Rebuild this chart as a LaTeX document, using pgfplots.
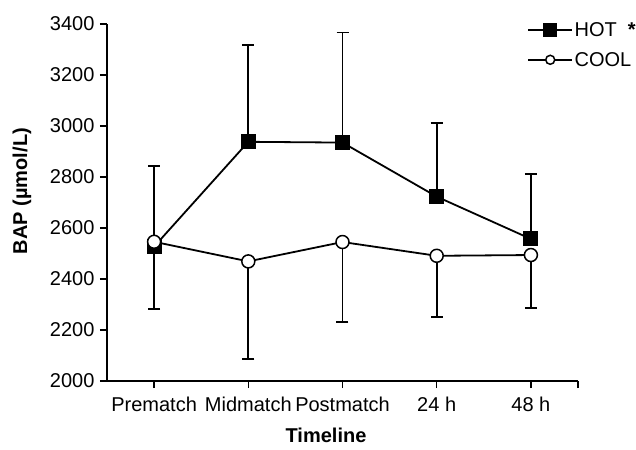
\documentclass[border=0pt]{standalone}
\usepackage{pgfplots}
\pgfplotsset{compat=1.18}
\usepackage{fontspec}
\setmainfont{Liberation Sans}
\begin{document}
\begin{tikzpicture}
\begin{axis}[
  name=ax,
  scale only axis,
  width=471pt, height=357pt,
  xmin=-0.5, xmax=4.5,
  ymin=2000, ymax=3400,
  ytick={2000,2200,...,3400},
  xtick={0,1,2,3,4},
  xticklabels={Prematch,Midmatch,Postmatch,24 h,48 h},
  extra x ticks={4.5},
  extra x tick labels={},
  axis lines*=left,
  axis line style={line width=1.5pt},
  tick style={line width=1.5pt, black},
  tick align=outside,
  major tick length=7pt,
  font=\fontsize{20}{23}\selectfont,
  tick label style={font=\fontsize{20}{23}\selectfont},
  xticklabel style={yshift=-5pt},
  yticklabel style={xshift=-2pt},
  /pgf/number format/assume math mode=true,
  /pgf/number format/1000 sep={},
  ylabel={\textbf{BAP (µmol/L)}},
  xlabel={\textbf{Timeline}},
  ylabel style={at={(axis description cs:-0.1805,0.532)}, anchor=center, font=\fontsize{20}{23}\selectfont},
  xlabel style={at={(axis description cs:0.465,-0.152)}, anchor=center, inner sep=0pt, font=\fontsize{20}{23}\selectfont},
  legend style={at={(axis description cs:0.892,0.941)}, anchor=west, draw=none, fill=none,
    inner sep=0pt, row sep=11pt, font=\fontsize{20}{23}\selectfont,
    nodes={inner sep=1.5pt}},
  legend cell align=left,
  clip=false,
]
\addplot[black, line width=1.8pt, mark=square*, mark size=7pt,
  mark options={fill=black, line width=1pt},
  legend image code/.code={
    \draw[black, line width=1.8pt] (0pt,0pt) -- (44pt,0pt);
    \fill[black] (16pt,-6pt) rectangle (28pt,6pt);},
  error bars/.cd, y dir=plus, y explicit,
  error bar style={line width=1.6pt, black},
  error mark options={rotate=90, mark size=6pt, line width=1.6pt}]
  table[x=x, y=y, y error plus=e] {
x y e
0 2527 316
1 2938 380
2 2935 431
3 2723 288
4 2557 255
};
\addlegendentry{HOT \ \textbf{*}}
\addplot[black, line width=1.8pt, mark=*, mark size=6.5pt,
  mark options={fill=white, line width=1.5pt},
  legend image code/.code={
    \draw[black, line width=1.8pt] (0pt,0pt) -- (44pt,0pt);
    \draw[black, fill=white, line width=1.5pt] (22pt,0pt) circle (4.5pt);},
  error bars/.cd, y dir=minus, y explicit,
  error bar style={line width=1.6pt, black},
  error mark options={rotate=90, mark size=6pt, line width=1.6pt}]
  table[x=x, y=y, y error minus=e] {
x y e
0 2546 264
1 2469 383
2 2545 314
3 2491 239
4 2494 208
};
\addlegendentry{COOL}
\end{axis}
\pgfresetboundingbox
\path[use as bounding box] ([shift={(-107pt,-68pt)}]ax.south west) rectangle ([shift={(58pt,24pt)}]ax.north east);
\end{tikzpicture}
\end{document}
